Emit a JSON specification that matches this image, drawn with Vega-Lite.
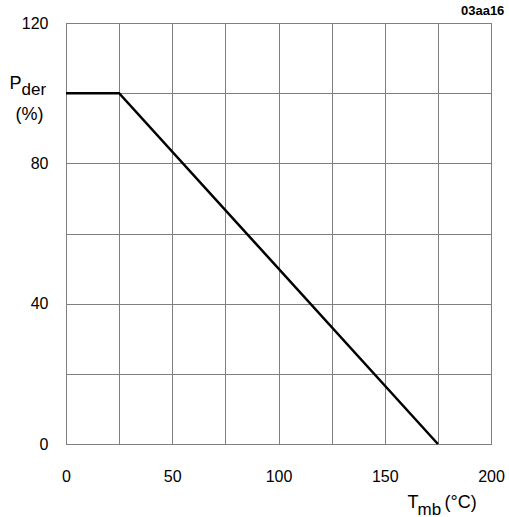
{
  "$schema": "https://vega.github.io/schema/vega-lite/v6.json",
  "width": 425,
  "height": 421,
  "autosize": {"type": "none"},
  "padding": {"left": 66, "top": 23, "right": 18, "bottom": 73},
  "background": "white",
  "title": {"text": "03aa16", "anchor": "end", "fontSize": 13, "fontWeight": "bold", "font": "Liberation Sans", "offset": -3, "color": "black"},
  "config": {
    "font": "Liberation Sans",
    "view": {"stroke": "#7f7f7f", "strokeWidth": 1},
    "axis": {
      "gridColor": "#7f7f7f", "gridOpacity": 1, "gridWidth": 1,
      "domainColor": "#7f7f7f", "domainWidth": 1,
      "ticks": false, "tickSize": 0,
      "labelFontSize": 16, "labelColor": "black", "labelOverlap": false, "labelFlush": false,
      "titleFontSize": 18, "titleFontWeight": "normal", "titleColor": "black",
      "titleAngle": 0, "titleAlign": "left", "titleBaseline": "alphabetic"
    }
  },
  "data": {"values": [
    {"t": 0, "p": 100},
    {"t": 25, "p": 100},
    {"t": 175, "p": 0}
  ]},
  "layer": [
    {
      "mark": {"type": "line", "color": "black", "strokeWidth": 2.5},
      "encoding": {
        "x": {"field": "t", "type": "quantitative", "scale": {"domain": [0, 200], "nice": false},
          "axis": {"orient": "bottom", "values": [0, 25, 50, 75, 100, 125, 150, 175, 200],
            "labelExpr": "datum.value % 50 === 0 ? datum.label : ''",
            "labelPadding": 24, "title": "T", "titleX": 341, "titleY": 63}},
        "y": {"field": "p", "type": "quantitative", "scale": {"domain": [0, 120], "nice": false},
          "axis": {"orient": "left", "values": [0, 20, 40, 60, 80, 100, 120],
            "labelExpr": "datum.value % 40 === 0 ? datum.label : ''",
            "labelPadding": 18, "title": "P", "titleX": -57, "titleY": 65}}
      }
    },
    {
      "mark": {"type": "line", "opacity": 0},
      "encoding": {
        "x": {"field": "t", "type": "quantitative",
          "axis": {"orient": "bottom", "grid": false, "labels": false, "domain": false,
            "title": "mb", "titleFontSize": 17, "titleX": 351, "titleY": 70}},
        "y": {"field": "p", "type": "quantitative",
          "axis": {"orient": "left", "grid": false, "labels": false, "domain": false,
            "title": "der", "titleFontSize": 17, "titleX": -45, "titleY": 71}}
      }
    },
    {
      "mark": {"type": "line", "opacity": 0},
      "encoding": {
        "x": {"field": "t", "type": "quantitative",
          "axis": {"orient": "bottom", "grid": false, "labels": false, "domain": false,
            "title": "(°C)", "titleX": 378, "titleY": 63}},
        "y": {"field": "p", "type": "quantitative",
          "axis": {"orient": "left", "grid": false, "labels": false, "domain": false,
            "title": "(%)", "titleX": -51, "titleY": 96}}
      }
    }
  ],
  "resolve": {"axis": {"x": "independent", "y": "independent"}}
}
